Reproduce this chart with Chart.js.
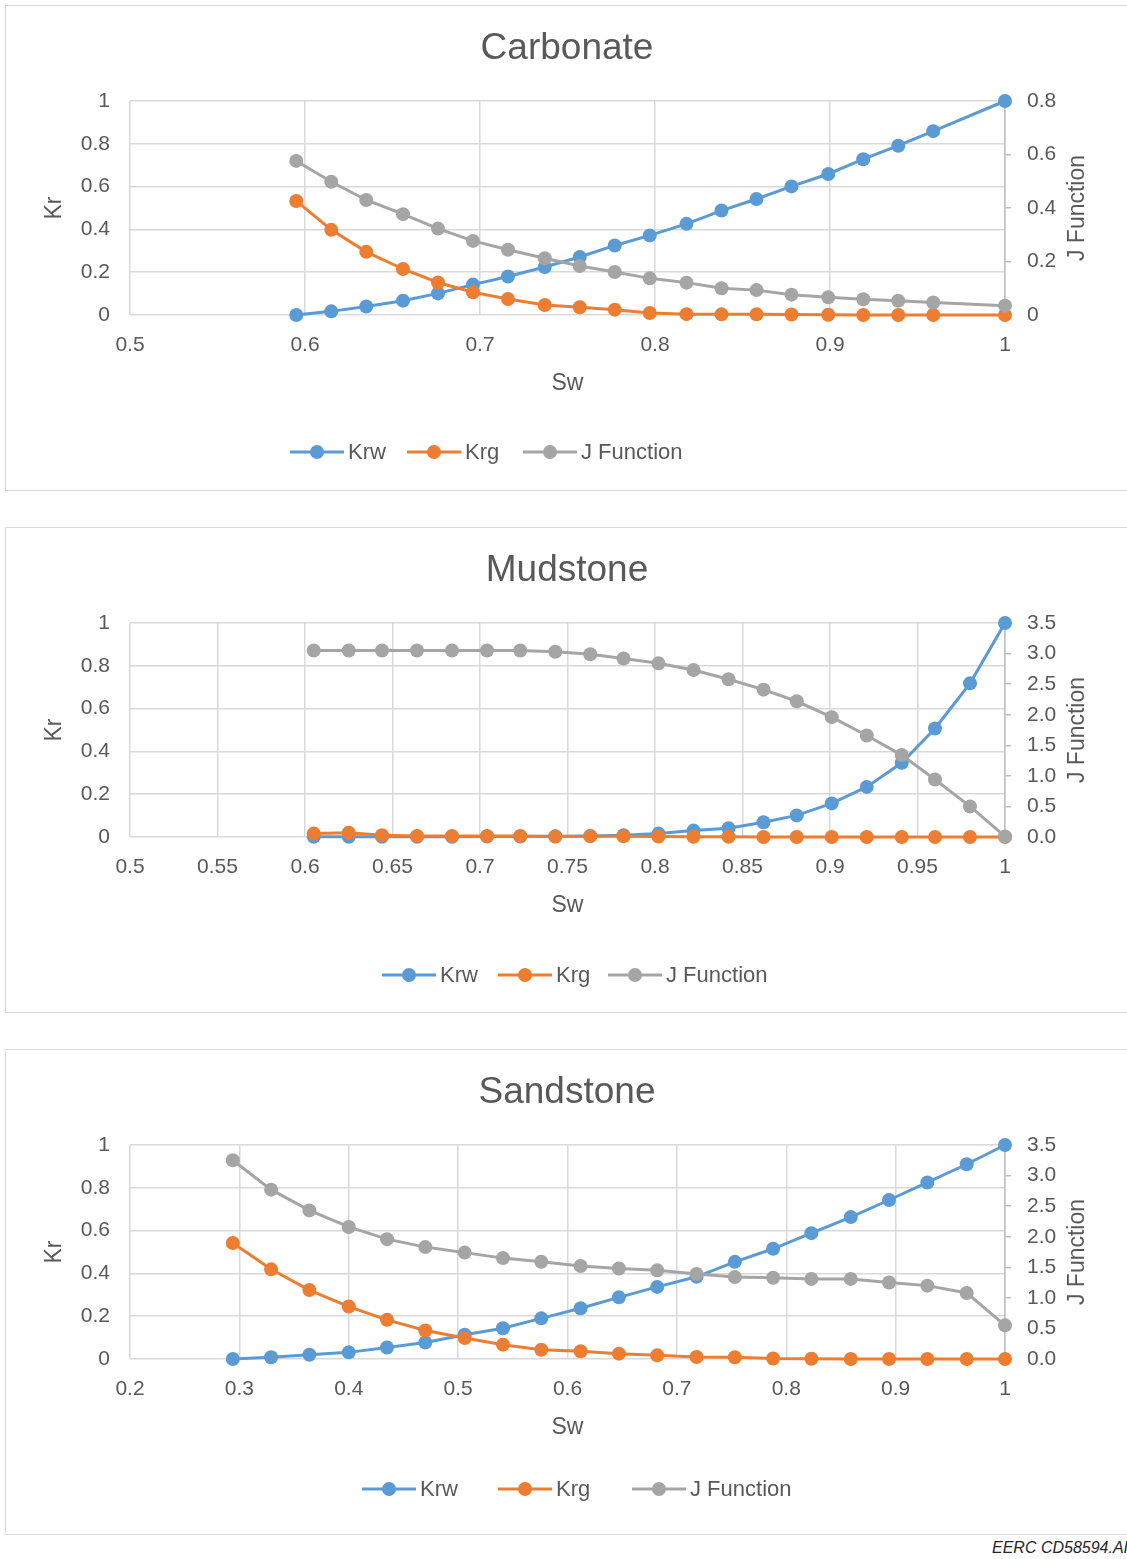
<!DOCTYPE html>
<html>
<head>
<meta charset="utf-8">
<script src="https://cdn.jsdelivr.net/npm/chart.js@4.4.1/dist/chart.umd.min.js"></script>
<style>
  body { margin: 0; background: #fff; width: 1127px; height: 1559px; position: relative; overflow: hidden; font-family: "Liberation Sans", Arial, sans-serif; }
  .panel { position: absolute; left: 5px; width: 1122px; height: 484px; border: 1px solid #d9d9d9; }
  .panel canvas { display: block; }
  #note { position: absolute; left: 992px; top: 1539px; font-size: 16px; font-style: italic; color: #262626; white-space: nowrap; }
</style>
</head>
<body>
<div class="panel" style="top:5px"><canvas id="carbonate" width="1122" height="484"></canvas></div>
<div class="panel" style="top:527px"><canvas id="mudstone" width="1122" height="484"></canvas></div>
<div class="panel" style="top:1049px"><canvas id="sandstone" width="1122" height="484"></canvas></div>
<div id="note">EERC CD58594.AI</div>
<script>
// --- data ---
const seriesNames = ["Krw", "Krg", "J Function"];

const carbSw  = [0.595, 0.615, 0.635, 0.656, 0.676, 0.696, 0.716, 0.737, 0.757, 0.777, 0.797, 0.818, 0.838, 0.858, 0.878, 0.899, 0.919, 0.939, 0.959, 1.0];
const carbKrw = [0, 0.017, 0.040, 0.067, 0.101, 0.142, 0.180, 0.224, 0.271, 0.325, 0.372, 0.426, 0.488, 0.542, 0.601, 0.659, 0.728, 0.791, 0.859, 1.0];
const carbKrg = [0.533, 0.398, 0.295, 0.215, 0.152, 0.106, 0.075, 0.047, 0.036, 0.025, 0.009, 0.004, 0.003, 0.003, 0.002, 0.001, 0, 0, 0, 0];
const carbJ   = [0.576, 0.498, 0.430, 0.377, 0.323, 0.277, 0.244, 0.212, 0.183, 0.161, 0.137, 0.121, 0.100, 0.093, 0.076, 0.066, 0.059, 0.053, 0.047, 0.035];

const mudSw  = [0.605, 0.625, 0.644, 0.664, 0.684, 0.704, 0.723, 0.743, 0.763, 0.782, 0.802, 0.822, 0.842, 0.862, 0.881, 0.901, 0.921, 0.941, 0.960, 0.980, 1.0];
const mudKrw = [0.001, 0.001, 0.001, 0.001, 0.001, 0.002, 0.002, 0.003, 0.005, 0.008, 0.016, 0.030, 0.041, 0.069, 0.101, 0.157, 0.234, 0.347, 0.507, 0.718, 1.0];
const mudKrg = [0.016, 0.020, 0.008, 0.005, 0.005, 0.005, 0.005, 0.002, 0.004, 0.003, 0.002, 0.001, 0.001, 0, 0, 0, 0, 0, 0, 0, 0];
const mudJ   = [3.05, 3.05, 3.05, 3.05, 3.05, 3.05, 3.05, 3.03, 2.99, 2.92, 2.84, 2.73, 2.58, 2.41, 2.22, 1.96, 1.66, 1.34, 0.94, 0.50, 0.01];

const sandSw  = [0.294, 0.329, 0.364, 0.400, 0.435, 0.470, 0.506, 0.541, 0.576, 0.612, 0.647, 0.682, 0.718, 0.753, 0.788, 0.823, 0.859, 0.894, 0.929, 0.965, 1.0];
const sandKrw = [0, 0.008, 0.020, 0.031, 0.054, 0.077, 0.113, 0.144, 0.190, 0.237, 0.288, 0.337, 0.384, 0.454, 0.515, 0.588, 0.663, 0.743, 0.825, 0.910, 1.0];
const sandKrg = [0.542, 0.419, 0.322, 0.245, 0.183, 0.133, 0.098, 0.067, 0.043, 0.036, 0.025, 0.017, 0.009, 0.008, 0.002, 0.001, 0, 0, 0, 0, 0];
const sandJ   = [3.25, 2.77, 2.43, 2.16, 1.96, 1.83, 1.74, 1.65, 1.59, 1.52, 1.48, 1.45, 1.39, 1.34, 1.33, 1.31, 1.31, 1.25, 1.20, 1.08, 0.55];

// axis ranges [min, max, step]
const carbX = [0.5, 1, 0.1], carbJAxis = [0, 0.8, 0.2];
const mudX  = [0.5, 1, 0.05], mudJAxis = [0, 3.5, 0.5];
const sandX = [0.2, 1, 0.1], sandJAxis = [0, 3.5, 0.5];

const colors = ["#5b9bd5", "#ed7d31", "#a5a5a5"];
const textColor = "#595959";
const gridColor = "#d9d9d9";
const FONT = '"Liberation Sans", Arial, sans-serif';

const fmt = (v) => String(parseFloat(Number(v).toFixed(3)));

// legend drawn as Excel does it: line with a dot, then the name
const lineLegend = {
  id: "lineLegend",
  afterDraw(chart, args, opts) {
    const ctx = chart.ctx;
    ctx.save();
    ctx.font = "22px " + FONT;
    ctx.textBaseline = "middle";
    chart.data.datasets.forEach((ds, i) => {
      const x = opts.x[i], y = opts.y;
      ctx.strokeStyle = ds.borderColor;
      ctx.lineWidth = 3;
      ctx.beginPath();
      ctx.moveTo(x, y);
      ctx.lineTo(x + 54, y);
      ctx.stroke();
      ctx.fillStyle = ds.borderColor;
      ctx.beginPath();
      ctx.arc(x + 27, y, 7, 0, Math.PI * 2);
      ctx.fill();
      ctx.fillStyle = textColor;
      ctx.fillText(ds.label, x + 58, y + 1);
    });
    ctx.restore();
  },
};

// right axis title reads bottom-to-top like the left one
const rightTitle = {
  id: "rightTitle",
  afterDraw(chart, args, opts) {
    const ctx = chart.ctx;
    const area = chart.chartArea;
    ctx.save();
    ctx.translate(opts.x, (area.top + area.bottom) / 2);
    ctx.rotate(-Math.PI / 2);
    ctx.font = "23px " + FONT;
    ctx.fillStyle = textColor;
    ctx.textAlign = "center";
    ctx.textBaseline = "middle";
    ctx.fillText(opts.text, 0, 0);
    ctx.restore();
  },
};

function makeChart(id, title, sw, krw, krg, jf, xr, jr, legendX, legendY) {
  const pts = (vals) => sw.map((x, i) => ({ x: x, y: vals[i] }));
  const series = [krw, krg, jf];
  const datasets = series.map((vals, i) => ({
    label: seriesNames[i],
    data: pts(vals),
    yAxisID: i === 2 ? "y2" : "y",
    borderColor: colors[i],
    backgroundColor: colors[i],
    borderWidth: 3,
    pointRadius: 7,
    pointBorderWidth: 0,
    pointHoverRadius: 7,
    tension: 0,
    clip: false,
    order: 3 - i,
  }));

  new Chart(document.getElementById(id), {
    type: "line",
    data: { datasets: datasets },
    options: {
      responsive: false,
      animation: false,
      events: [],
      layout: { padding: 0 },
      plugins: {
        legend: { display: false },
        tooltip: { enabled: false },
        title: {
          display: true,
          text: title,
          color: textColor,
          font: { family: FONT, size: 37, weight: "normal" },
          padding: { top: 21, bottom: 29.6 },
        },
        lineLegend: { x: legendX, y: legendY },
        rightTitle: { x: 1072, text: "J Function" },
      },
      scales: {
        x: {
          type: "linear",
          position: "bottom",
          min: xr[0],
          max: xr[1],
          afterBuildTicks: (scale) => {
            const t = [];
            for (let v = xr[0]; v <= xr[1] + 1e-9; v += xr[2]) t.push({ value: +v.toFixed(4) });
            scale.ticks = t;
          },
          afterFit: (scale) => { scale.height = 175; },
          grid: { color: gridColor, lineWidth: 1.5, drawTicks: false },
          border: { display: false },
          ticks: { color: textColor, padding: 18, font: { family: FONT, size: 21 }, callback: fmt, maxRotation: 0, autoSkip: false },
          title: { display: true, text: "Sw", color: textColor, font: { family: FONT, size: 23 }, padding: { top: 0, bottom: 93 } },
        },
        y: {
          position: "left",
          min: 0,
          max: 1,
          ticks: { stepSize: 0.2, color: textColor, padding: 20, font: { family: FONT, size: 21 }, callback: fmt },
          afterFit: (scale) => { scale.width = 124; },
          grid: { color: gridColor, lineWidth: 1.5, drawTicks: false },
          border: { display: false },
          title: { display: true, text: "Kr", color: textColor, font: { family: FONT, size: 23 }, padding: { top: 35, bottom: 0 } },
        },
        y2: {
          position: "right",
          min: jr[0],
          max: jr[1],
          ticks: {
            stepSize: jr[2],
            color: textColor,
            padding: 16,
            font: { family: FONT, size: 21 },
            callback: (v) => (jr[2] < 0.5 ? fmt(v) : Number(v).toFixed(1)),
          },
          afterFit: (scale) => { scale.width = 123; },
          grid: { drawOnChartArea: false, drawTicks: true, tickLength: 6, color: "#bfbfbf", lineWidth: 1.5 },
          border: { display: true, color: "#bfbfbf", width: 1.5 },
        },
      },
    },
    plugins: [lineLegend, rightTitle],
  });
}

makeChart("carbonate", "Carbonate", carbSw, carbKrw, carbKrg, carbJ, carbX, carbJAxis, [284, 401, 517], 446);
makeChart("mudstone", "Mudstone", mudSw, mudKrw, mudKrg, mudJ, mudX, mudJAxis, [376, 492, 602], 447);
makeChart("sandstone", "Sandstone", sandSw, sandKrw, sandKrg, sandJ, sandX, sandJAxis, [356, 492, 626], 439);
</script>
</body>
</html>
